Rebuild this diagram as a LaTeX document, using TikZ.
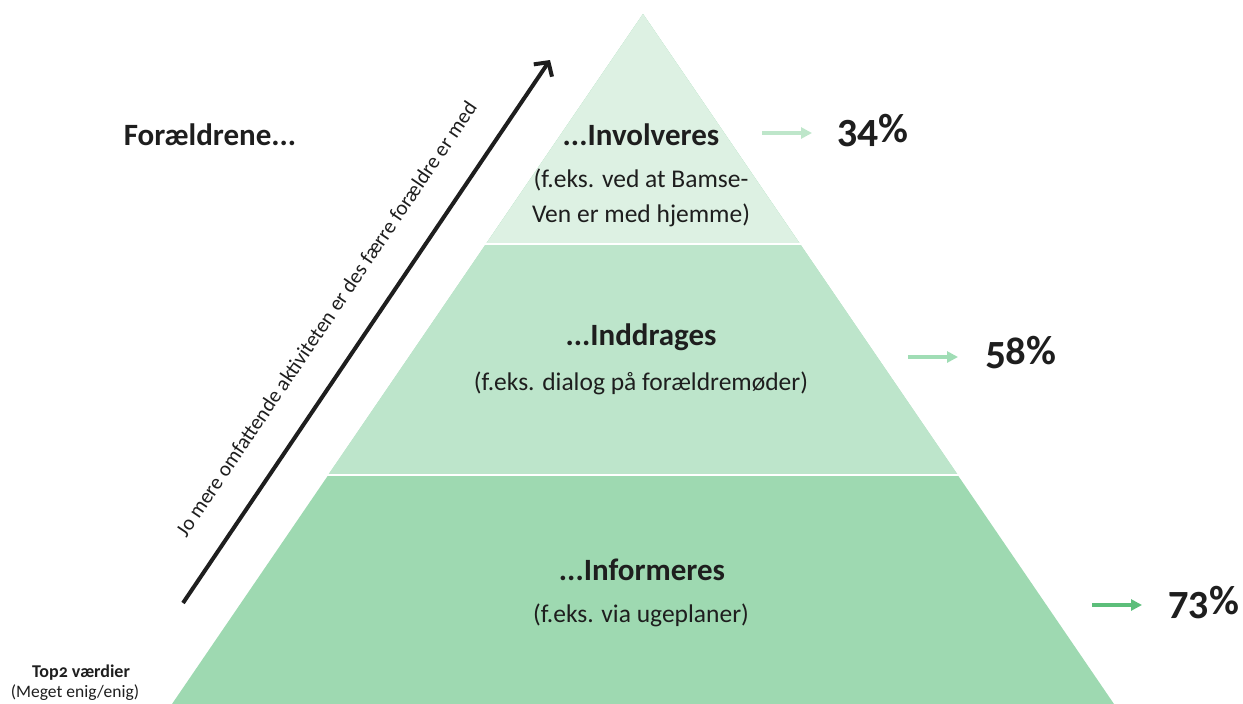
\documentclass[tikz,border=0pt]{standalone}
\usepackage{fontspec}
\setmainfont{Carlito}[Numbers=OldStyle]
\usetikzlibrary{arrows.meta}
\definecolor{tierA}{RGB}{221,241,227}
\definecolor{tierB}{RGB}{189,229,203}
\definecolor{tierC}{RGB}{158,217,177}
\definecolor{arrA}{RGB}{190,230,202}
\definecolor{arrB}{RGB}{160,221,181}
\definecolor{arrC}{RGB}{92,190,122}
\definecolor{ink}{RGB}{30,30,30}
\tikzset{
  title/.style={font=\bfseries\fontsize{31}{36}\selectfont, text=ink, inner sep=0pt},
  sub/.style={font=\fontsize{25.5}{30}\selectfont, text=ink, inner sep=0pt},
  pct/.style={font=\bfseries\fontsize{41}{46}\selectfont, text=ink, anchor=west, inner sep=0pt},
  pctarrow/.style={line width=3.5pt, -{Triangle[length=11pt,width=11pt]}},
  sep/.style={white, line width=2pt}
}
\begin{document}
\begin{tikzpicture}[x=1pt,y=-1pt]
\useasboundingbox (0,0) rectangle (1243,704);
% pyramid
\coordinate (apex) at (643,14);
\coordinate (bl) at (172,704);
\coordinate (br) at (1114,704);
\fill[tierC] (bl) -- (br) -- (apex) -- cycle;
\fill[tierB] (328,475) -- (958,475) -- (apex) -- cycle;
\fill[tierA] (486,244) -- (800,244) -- (apex) -- cycle;
\draw[sep] (320,475) -- (966,475);
\draw[sep] (480,244) -- (806,244);
% tier texts
\node[title] (t1) at (641,135) {...Involveres};
\node[sub] (s1a) at (641,180) {(f.eks. ved at Bamse-};
\node[sub] (s1b) at (641,215) {Ven er med hjemme)};
\node[title] (t2) at (641,337) {...Inddrages};
\node[sub] (s2) at (641,383) {(f.eks. dialog på forældremøder)};
\node[title] (t3) at (642,570) {...Informeres};
\node[sub] (s3) at (641,615) {(f.eks. via ugeplaner)};
% percentages
\coordinate (a1s) at (762,133); \coordinate (a1e) at (812,133);
\coordinate (a2s) at (908,357); \coordinate (a2e) at (958,357);
\coordinate (a3s) at (1092,605); \coordinate (a3e) at (1142,605);
\draw[pctarrow, arrA] (a1s) -- (a1e);
\draw[pctarrow, arrB] (a2s) -- (a2e);
\draw[pctarrow, arrC] (a3s) -- (a3e);
\node[pct] (p1) at (837,131) {34\%};
\node[pct] (p2) at (985,353) {58\%};
\node[pct] (p3) at (1168,603) {73\%};
% left texts
\node[title] (for) at (210,135) {Forældrene...};
\node[font=\bfseries\fontsize{18}{21}\selectfont, text=ink, inner sep=0pt] (top) at (81,673) {Top2 værdier};
\node[font=\fontsize{17.5}{20}\selectfont, text=ink, inner sep=0pt] (meg) at (75,693) {(Meget enig/enig)};
% big arrow
\coordinate (bs) at (183,603);
\coordinate (be) at (550,60);
\draw[ink, line width=4pt, -{Straight Barb[length=10pt,width=22pt]}] (bs) -- (be);
\node[font=\fontsize{21}{24}\selectfont, text=ink, rotate=55.9, inner sep=0pt] (diag) at (326,319) {Jo mere omfattende aktiviteten er des færre forældre er med};
\end{tikzpicture}
\end{document}
